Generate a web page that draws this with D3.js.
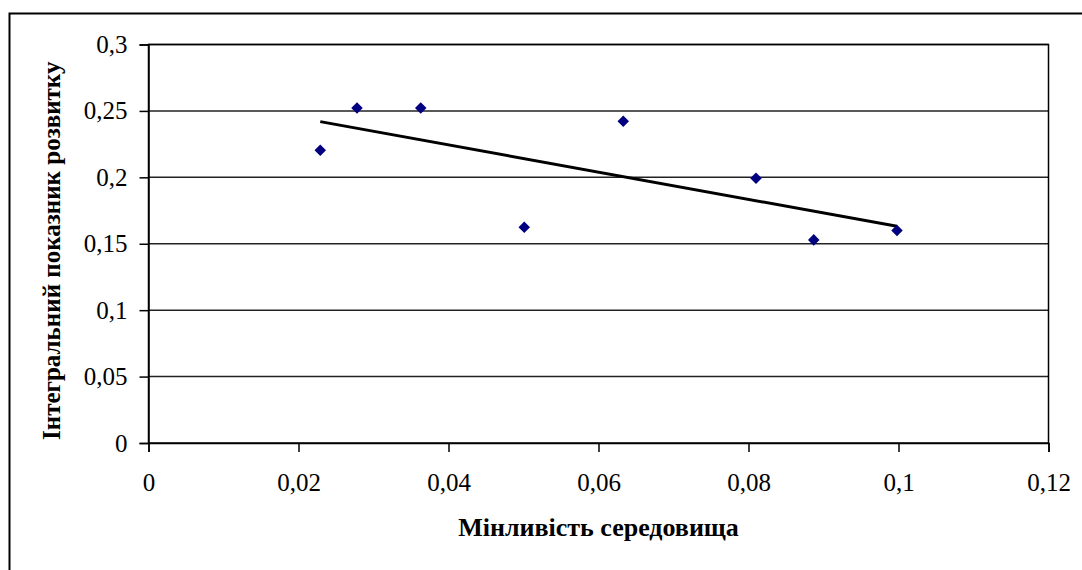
<!DOCTYPE html>
<html>
<head>
<meta charset="utf-8">
<script src="https://cdn.jsdelivr.net/npm/d3@7"></script>
<style>
  body { margin: 0; background: #fff; }
  svg text { font-family: "Liberation Serif", Tinos, "DejaVu Serif", serif !important; }
</style>
</head>
<body>
<div id="chart"></div>
<script>
// data
var xVals = [0.0229, 0.0278, 0.0363, 0.0501, 0.0633, 0.0810, 0.0887, 0.0998];
var yVals = [0.2204, 0.2522, 0.2522, 0.1624, 0.2422, 0.1993, 0.1529, 0.1600];
var xTicks = [0, 0.02, 0.04, 0.06, 0.08, 0.1, 0.12];
var yTicks = [0, 0.05, 0.1, 0.15, 0.2, 0.25, 0.3];
var xTitle = "Мінливість середовища";
var yTitle = "Інтегральний показник розвитку";

var W = 1082, H = 570;
var margin = {top: 44.5, right: 33.5, bottom: 127, left: 148.5},
    w = W - margin.left - margin.right,
    h = H - margin.top - margin.bottom;

var svg = d3.select("#chart").append("svg")
  .attr("width", W).attr("height", H);

// outer chart frame (runs off the right and bottom)
svg.append("rect")
  .attr("x", 9.5).attr("y", 13.5)
  .attr("width", W + 20).attr("height", H + 20)
  .attr("fill", "none").attr("stroke", "#000").attr("stroke-width", 2);

var g = svg.append("g")
  .attr("transform", "translate(" + margin.left + "," + margin.top + ")");

var x = d3.scaleLinear().domain([0, 0.12]).range([0, w]);
var y = d3.scaleLinear().domain([0, 0.3]).range([h, 0]);

var fmt = function(d) { return String(+d.toFixed(2)).replace(".", ","); };

// horizontal gridlines
g.selectAll(".grid")
  .data(yTicks.slice(1))
  .enter().append("line")
  .attr("x1", 0).attr("x2", w)
  .attr("y1", d => y(d)).attr("y2", d => y(d))
  .attr("stroke", "#222").attr("stroke-width", 1.5);

// plot border
g.append("rect")
  .attr("width", w).attr("height", h)
  .attr("fill", "none").attr("stroke", "#000").attr("stroke-width", 1.5);

// axes
var yAxis = g.append("g")
  .call(d3.axisLeft(y).tickValues(yTicks).tickFormat(fmt).tickSize(9).tickPadding(12));
var xAxis = g.append("g")
  .attr("transform", "translate(0," + h + ")")
  .call(d3.axisBottom(x).tickValues(xTicks).tickFormat(fmt).tickSize(9).tickPadding(21));
[xAxis, yAxis].forEach(function(a) {
  a.attr("font-family", null).attr("font-size", null);
  a.select(".domain").attr("stroke", "#000").attr("stroke-width", 1.5);
  a.selectAll(".tick line").attr("stroke", "#000").attr("stroke-width", 1.5);
  a.selectAll("text").attr("fill", "#000").style("font-size", "25px");
});

// linear trendline (least squares of the points)
var pts = xVals.map((d, i) => [d, yVals[i]]);
var mx = d3.mean(xVals), my = d3.mean(yVals);
var slope = d3.sum(pts, p => (p[0] - mx) * (p[1] - my)) / d3.sum(xVals, d => (d - mx) * (d - mx));
var icpt = my - slope * mx;
var x0 = d3.min(xVals), x1 = d3.max(xVals);
g.append("line")
  .attr("x1", x(x0)).attr("y1", y(icpt + slope * x0))
  .attr("x2", x(x1)).attr("y2", y(icpt + slope * x1))
  .attr("stroke", "#000").attr("stroke-width", 3);

// diamond markers
g.selectAll(".dot")
  .data(pts)
  .enter().append("path")
  .attr("class", "dot")
  .attr("d", d3.symbol().type(d3.symbolDiamond2).size(85))
  .attr("transform", d => "translate(" + x(d[0]) + "," + y(d[1]) + ")")
  .attr("fill", "#000080");

// axis titles
svg.append("text")
  .attr("x", margin.left + w / 2).attr("y", 536)
  .attr("text-anchor", "middle")
  .style("font-weight", "bold").style("font-size", "26px")
  .text(xTitle);

svg.append("text")
  .attr("transform", "translate(60," + (margin.top + h / 2 + 7) + ") rotate(-90)")
  .attr("text-anchor", "middle")
  .style("font-weight", "bold").style("font-size", "25px")
  .text(yTitle);
</script>
</body>
</html>
